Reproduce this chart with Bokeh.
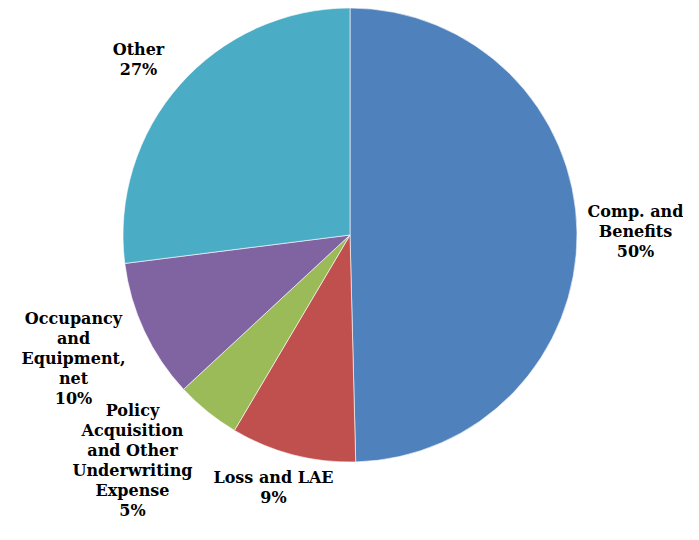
import math
from bokeh.plotting import figure
from bokeh.models import Range1d, ColumnDataSource
from bokeh.core.properties import value
from bokeh.embed import file_html
from bokeh.resources import INLINE

categories = ["Comp. and Benefits", "Loss and LAE",
              "Policy Acquisition and Other Underwriting Expense",
              "Occupancy and Equipment, net", "Other"]
shares = [49.6, 8.9, 4.6, 9.9, 27.0]
pct_labels = ["50%", "9%", "5%", "10%", "27%"]
label_text = ["Comp. and\nBenefits\n50%", "Loss and LAE\n9%",
              "Policy\nAcquisition\nand Other\nUnderwriting\nExpense\n5%",
              "Occupancy\nand\nEquipment,\nnet\n10%", "Other\n27%"]
colors = ["#4F81BD", "#C0504D", "#9BBB59", "#8064A2", "#4BACC6"]

W, H = 683, 524
# layout (pixel space, origin at top-left of the figure)
cx_s, cy_s, radius = 349.5, 234.5, 227
label_pos_s = [(635, 231), (273, 487), (132, 460), (73, 358), (138, 59)]

def sx(x):
    return x

def sy(y):
    return H - y

total = sum(shares)
starts, ends = [], []
cum = 0.0
for s in shares:
    starts.append(math.pi / 2 - 2 * math.pi * cum / total)
    cum += s
    ends.append(math.pi / 2 - 2 * math.pi * cum / total)

p = figure(width=W, height=H, output_backend="svg", toolbar_location=None,
           x_range=Range1d(0, W), y_range=Range1d(0, H), min_border=0)
p.axis.visible = False
p.grid.visible = False
p.outline_line_color = None
p.background_fill_color = "white"

src = ColumnDataSource(dict(x=[sx(cx_s)] * len(shares), y=[sy(cy_s)] * len(shares),
                            start=starts, end=ends, color=colors, cat=categories))
p.wedge(x="x", y="y", radius=radius, start_angle="start", end_angle="end",
        direction="clock", fill_color="color", line_color="white", line_width=0.6,
        source=src)

lsrc = ColumnDataSource(dict(x=[sx(a) for a, b in label_pos_s],
                             y=[sy(b) for a, b in label_pos_s], t=label_text))
p.text(x="x", y="y", text="t", source=lsrc, text_align="center",
       text_baseline="middle", text_font=value("DejaVu Serif"),
       text_font_style="bold", text_font_size="16px", text_line_height=1.05,
       text_color="#000000")

open("out.html", "w").write(file_html(p, INLINE))
